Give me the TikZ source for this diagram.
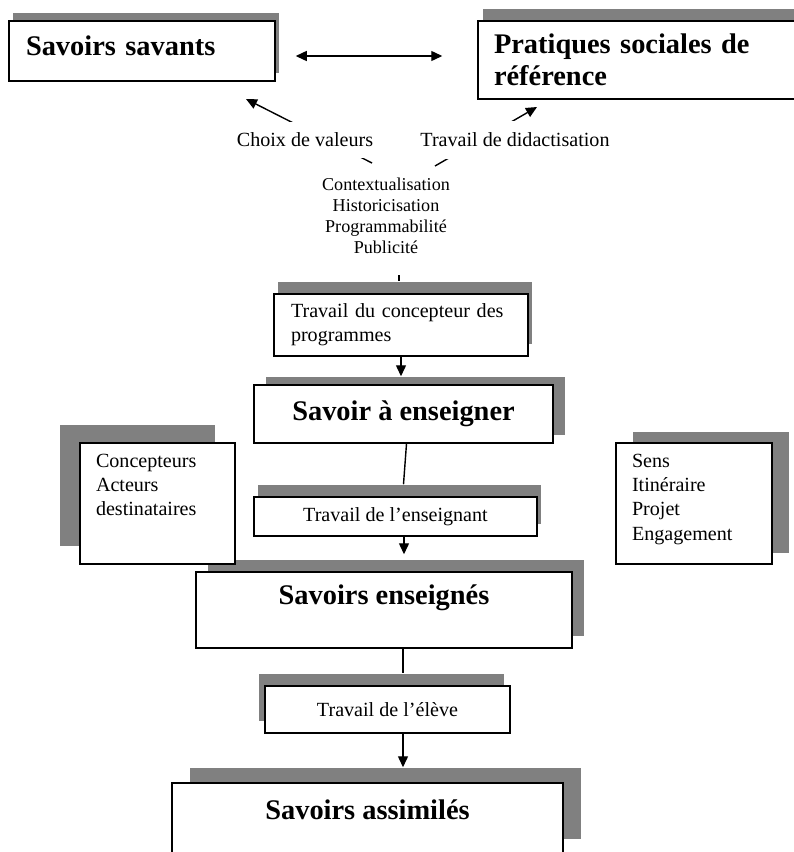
\documentclass[tikz,border=0pt]{standalone}
\usepackage{fontspec}
\setmainfont{Liberation Serif}
\usetikzlibrary{arrows.meta,shadows}

\newcommand{\bigfont}{\fontsize{28.4}{32}\selectfont\bfseries}
\newcommand{\midfont}{\fontsize{20.1}{24.3}\selectfont}
\newcommand{\smallfont}{\fontsize{18.1}{20.8}\selectfont}

\begin{document}
\begin{tikzpicture}[x=1pt, y=-1pt,
    box/.style={rectangle, draw, fill=white, line width=1.5pt},
    link/.style={line width=1.4pt},
    flow/.style={link, -{Triangle[length=11pt, width=10pt]}},
    gray shadow/.style 2 args={drop shadow={shadow xshift=#1pt, shadow yshift=#2pt, fill=shadowgray, opacity=1}}]
    \definecolor{shadowgray}{RGB}{128,128,128}
    \useasboundingbox (0,0) rectangle (794,852);
    \clip (0,0) rectangle (794,852);

    % top row
    \node (savants) at (142,51) [box, gray shadow={4}{8}, text width=232pt, inner xsep=17pt, minimum height=60pt, text depth=11pt, align=left, font=\bigfont] {Savoirs savants};
    \node (pratiques) at (648,60) [box, gray shadow={5}{12}, text width=308pt, inner xsep=16pt, minimum height=78pt, align=left, font=\bigfont] {Pratiques sociales de\\référence};
    \draw[link, {Triangle[length=11pt, width=10pt]}-{Triangle[length=11pt, width=10pt]}] ([shift={(20,5)}]savants.east) -- ([shift={(-35,-4)}]pratiques.west);

    % didactisation
    \coordinate (c1) at (372,163);
    \coordinate (t1) at (246,99);
    \coordinate (c2) at (435,166);
    \coordinate (t2) at (537,107);
    \draw[flow] (c1) -- (t1);
    \draw[flow] (c2) -- (t2);
    \node (choix) at (305,140) [fill=white, minimum height=36pt, font=\midfont] {Choix de valeurs};
    \node (didact) at (515,140) [fill=white, minimum height=38pt, font=\midfont] {Travail de didactisation};
    \node (ctx) at (386,216) [align=center, font=\smallfont] {Contextualisation\\Historicisation\\Programmabilité\\Publicité};

    % chain of knowledge
    \node (ctor) at (401,325) [box, gray shadow={4}{12}, text width=220pt, inner xsep=17pt, minimum height=62pt, align=left, font=\midfont] {Travail du concepteur des\\programmes};
    \node (ens) at (403.5,414) [box, gray shadow={12}{8}, minimum width=299pt, minimum height=58pt, font=\bigfont] {Savoir à enseigner};
    \node (enseignant) at (395.5,516.5) [box, gray shadow={4}{12}, minimum width=283pt, minimum height=39pt, font=\midfont] {Travail de l’enseignant};
    \node (enseignes) at (384,610) [box, gray shadow={12}{12}, minimum width=376pt, minimum height=76pt, text depth=30pt, font=\bigfont] {Savoirs enseignés};
    \node (eleve) at (387.5,709.5) [box, gray shadow={-6}{12}, minimum width=245pt, minimum height=47pt, font=\midfont] {Travail de l’élève};
    \node (assimiles) at (367.5,818.5) [box, gray shadow={18}{15}, minimum width=391pt, minimum height=71pt, text depth=17pt, font=\bigfont] {Savoirs assimilés};

    % side boxes
    \node (acteurs) at (157.5,503.5) [box, gray shadow={-20}{18}, inner xsep=16pt, inner ysep=11pt, font=\midfont] {\parbox[t][99pt][t]{123pt}{\raggedright Concepteurs\\Acteurs\\destinataires}};
    \node (sens) at (694,503.5) [box, gray shadow={17}{11}, inner xsep=16pt, inner ysep=11pt, font=\midfont] {\parbox[t][99pt][t]{124pt}{\raggedright Sens\\Itinéraire\\Projet\\Engagement}};

    % connectors
    \coordinate (c3) at (399,275);
    \draw[link, shorten >=12pt] (c3) -- (c3 |- ctor.north);
    \draw[flow] (ctor.south) -- ([xshift=-2.5pt, yshift=8pt]ens.north);
    \draw[link] ([xshift=3pt]ens.south) -- ([shift={(8,-12)}]enseignant.north);
    \draw[flow] ([xshift=8.5pt]enseignant.south) -- ([xshift=20pt, yshift=17pt]enseignes.north);
    \draw[link] ([xshift=19pt]enseignes.south) -- ([xshift=15.5pt, yshift=12pt]eleve.north);
    \draw[flow] ([xshift=15.5pt]eleve.south) -- ([xshift=35.5pt, yshift=15pt]assimiles.north);
\end{tikzpicture}
\end{document}
